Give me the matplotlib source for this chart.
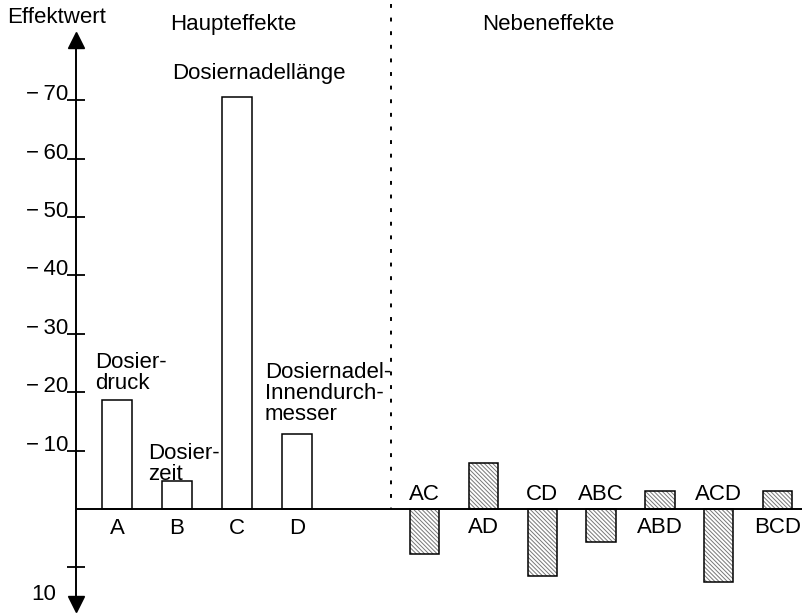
import matplotlib.pyplot as plt
import matplotlib.transforms as mtransforms
import numpy as np

plt.rcParams['font.family'] = ['Liberation Sans', 'DejaVu Sans']
plt.rcParams['font.size'] = 16

# Haupteffekte (Effektwerte)
main_names = ['A', 'B', 'C', 'D']
main_vals = [-18.7, -4.8, -70.5, -12.8]
main_texts = ['Dosier-\ndruck', 'Dosier-\nzeit', 'Dosiernadellänge',
              'Dosiernadel-\nInnendurch-\nmesser']

# Nebeneffekte (Wechselwirkungen)
inter_names = ['AC', 'AD', 'CD', 'ABC', 'ABD', 'ACD', 'BCD']
inter_vals = [7.7, -7.9, 11.5, 5.7, -3.1, 12.5, -3.1]

y_ticks = [-70, -60, -50, -40, -30, -20, -10, 10]
y_ticklabels = ['\u2212\u200970', '\u2212\u200960', '\u2212\u200950', '\u2212\u200940',
                '\u2212\u200930', '\u2212\u200920', '\u2212\u200910', '10']

fig = plt.figure(figsize=(8.05, 6.13), dpi=100)
ax = fig.add_axes([0, 0, 1, 1])
ax.set_xlim(-1.95, 11.47)
ax.set_ylim(17.8, -87.16)

x_main = np.arange(len(main_names))
x_inter = 5.13 + np.arange(len(inter_names)) * 0.98
w = 0.49

ax.bar(x_main, main_vals, width=w, color='white', edgecolor='black', linewidth=1.1, zorder=3)
plt.rcParams['hatch.linewidth'] = 0.7
ax.bar(x_inter, inter_vals, width=w, color='white', edgecolor='#777777',
       hatch='\\\\\\\\\\\\\\\\', linewidth=0, zorder=3)
ax.bar(x_inter, inter_vals, width=w, fill=False, edgecolor='black', linewidth=1.1, zorder=4)

# Achse
x_axis = -0.683
for s in ['top', 'right', 'bottom']:
    ax.spines[s].set_visible(False)
ax.spines['left'].set_position(('data', x_axis))
ax.spines['left'].set_bounds(-80, 16)
ax.spines['left'].set_linewidth(1.4)
ax.set_xticks([])
ax.set_yticks(y_ticks)
ax.set_yticklabels(y_ticklabels)
ax.tick_params(axis='y', direction='inout', length=13, width=1.3, pad=-1)
for lab in ax.get_yticklabels():
    if lab.get_text() == '10':
        dx, dy = -12 / 100, -25 / 100
    else:
        dx, dy = 0, 8 / 100
    lab.set_transform(lab.get_transform() + mtransforms.ScaledTranslation(dx, dy, fig.dpi_scale_trans))
ax.plot(x_axis, -80.3, marker='^', color='black', markersize=11, clip_on=False, zorder=5)
ax.plot(x_axis, 16.3, marker='v', color='black', markersize=11, clip_on=False, zorder=5)

ax.hlines(0, x_axis, 11.42, color='black', linewidth=1.4, zorder=5)
ax.vlines(4.56, -86.5, 0, color='black', linewidth=1.4, linestyles=(0, (2, 5)))

ax.text(-1.83, -84.2, 'Effektwert', va='center', ha='left')
ax.text(0.883, -82.9, 'Haupteffekte', va='center', ha='left')
ax.text(6.08, -82.9, 'Nebeneffekte', va='center', ha='left')

# Beschriftung der Haupteffekte
text_pos = [(-0.367, -23.3), (0.517, -7.7), (0.917, -74.6), (2.467, -19.8)]
for (tx, ty), t in zip(text_pos, main_texts):
    ax.text(tx, ty, t, va='center', ha='left', linespacing=1.0)
for xi, n in zip(x_main, main_names):
    ax.text(xi, 3.25, n, ha='center', va='center')

for xi, v, n in zip(x_inter, inter_vals, inter_names):
    ty = -2.57 if v > 0 else 3.08
    ax.text(xi, ty, n, ha='center', va='center')

fig.savefig('out.png', dpi=100)
